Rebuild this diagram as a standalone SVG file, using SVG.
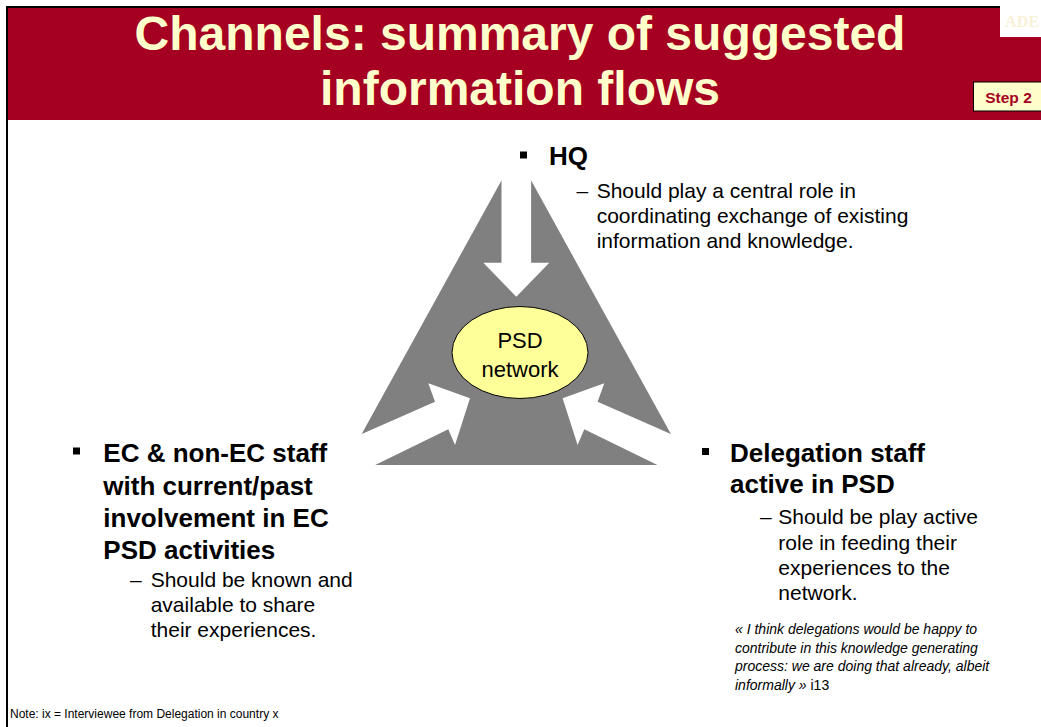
<svg xmlns="http://www.w3.org/2000/svg" width="1041" height="727" viewBox="0 0 1041 727">
  <style>
    .title { font-family: "Liberation Sans", Arial, sans-serif; font-weight: bold; font-size: 48px; fill: #FFFFCC; text-anchor: middle; }
    .head { font-family: "Liberation Sans", Arial, sans-serif; font-weight: bold; font-size: 26px; fill: #000; }
    .sub { font-family: "Liberation Sans", Arial, sans-serif; font-size: 21px; fill: #000; }
    .node { font-family: "Liberation Sans", Arial, sans-serif; font-size: 22px; fill: #000; text-anchor: middle; }
    .quote { font-family: "Liberation Sans", Arial, sans-serif; font-size: 14px; font-style: italic; fill: #000; }
    .note { font-family: "Liberation Sans", Arial, sans-serif; font-size: 12px; fill: #000; }
    .flow { fill: #FFFFFF; }
  </style>
  <defs>
    <!-- block arrow coming in from the lower left towards the network -->
    <polygon id="sideArrow" points="470,398.3 455,445 448.3,429.3 345,479.8 330,448 435,401.7 428.3,383.3"/>
  </defs>

  <rect x="0" y="0" width="1041" height="727" fill="#FFFFFF"/>

  <!-- slide frame and header band -->
  <g id="header">
    <rect x="6" y="6" width="1035" height="2" fill="#000"/>
    <rect x="6" y="6" width="2" height="721" fill="#000"/>
    <rect x="8" y="8" width="1033" height="112" fill="#A50021"/>
    <text class="title" x="520" y="49.5">Channels: summary of suggested</text>
    <text class="title" x="520" y="104.5">information flows</text>
  </g>

  <g id="logo">
    <rect x="1000" y="6" width="41" height="31" fill="#FFFFFF"/>
    <text x="1022" y="27" font-family="Liberation Serif, serif" font-weight="bold" font-size="16" fill="#F7F1D8" text-anchor="middle">ADE</text>
  </g>

  <g id="step-badge">
    <rect x="973.5" y="82" width="70" height="29" fill="#FFFFCC" stroke="#000" stroke-width="1"/>
    <text x="1008.5" y="102.7" font-family="Liberation Sans, Arial, sans-serif" font-weight="bold" font-size="15.5" fill="#A50021" text-anchor="middle">Step 2</text>
  </g>

  <!-- grey triangle behind the network -->
  <g id="triangle">
    <polygon points="516.3,153.5 344.6,465 688,465" fill="#808080"/>
  </g>

  <!-- information flows into the network -->
  <g id="connectors" class="flow">
    <polygon points="501.5,140 531.1,140 531.1,262.7 549.3,262.7 516.3,296.7 483.3,262.7 501.5,262.7"/>
    <use href="#sideArrow"/>
    <use href="#sideArrow" transform="translate(1032.6 0) scale(-1 1)"/>
  </g>

  <g id="psd-network">
    <ellipse cx="520" cy="352.5" rx="68" ry="46" fill="#FFFF99" stroke="#000" stroke-width="1"/>
    <text class="node" x="520" y="348.3">PSD</text>
    <text class="node" x="520" y="376.7">network</text>
  </g>

  <g id="hq">
    <rect x="520" y="151.5" width="7" height="7" fill="#000"/>
    <text class="head" x="549" y="165">HQ</text>
    <text class="sub" x="576.5" y="198.3">–</text>
    <text class="sub" x="596.7" y="198.3">Should play a central role in</text>
    <text class="sub" x="596.7" y="223.3">coordinating exchange of existing</text>
    <text class="sub" x="596.7" y="248.3">information and knowledge.</text>
  </g>

  <g id="ec-staff">
    <rect x="73" y="447.5" width="7" height="7" fill="#000"/>
    <text class="head" x="103.3" y="462">EC &amp; non-EC staff</text>
    <text class="head" x="103.3" y="494.5">with current/past</text>
    <text class="head" x="103.3" y="527">involvement in EC</text>
    <text class="head" x="103.3" y="559">PSD activities</text>
    <text class="sub" x="130" y="587">–</text>
    <text class="sub" x="150.7" y="587">Should be known and</text>
    <text class="sub" x="150.7" y="612">available to share</text>
    <text class="sub" x="150.7" y="637">their experiences.</text>
  </g>

  <g id="delegation-staff">
    <rect x="702" y="448" width="7" height="7" fill="#000"/>
    <text class="head" x="730" y="461.7">Delegation staff</text>
    <text class="head" x="730" y="492.5">active in PSD</text>
    <text class="sub" x="760" y="524.3">–</text>
    <text class="sub" x="778.3" y="524.3">Should be play active</text>
    <text class="sub" x="778.3" y="549.6">role in feeding their</text>
    <text class="sub" x="778.3" y="574.9">experiences to the</text>
    <text class="sub" x="778.3" y="600.2">network.</text>
  </g>

  <g id="quote">
    <text class="quote" x="735" y="634">« I think delegations would be happy to</text>
    <text class="quote" x="735" y="652.7">contribute in this knowledge generating</text>
    <text class="quote" x="735" y="671.4">process: we are doing that already, albeit</text>
    <text class="quote" x="735" y="690">informally »<tspan font-style="normal"> i13</tspan></text>
  </g>

  <g id="note">
    <text class="note" x="10" y="717.7">Note: ix = Interviewee from Delegation in country x</text>
  </g>
</svg>
